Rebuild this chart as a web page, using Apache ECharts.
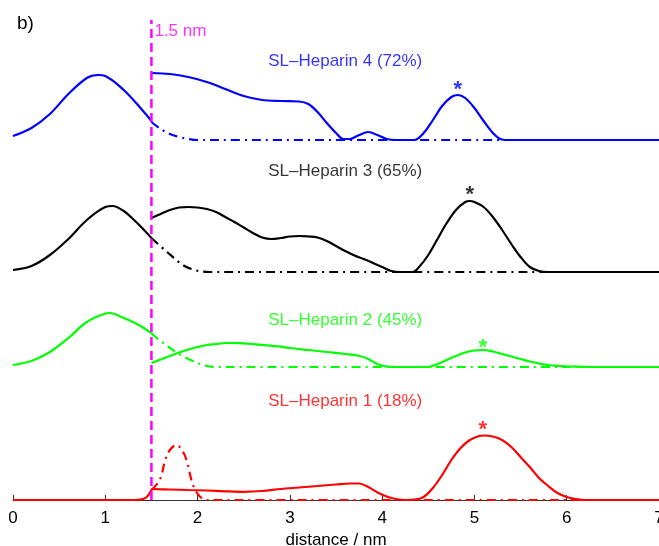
<!DOCTYPE html>
<html><head><meta charset="utf-8">
<script src="https://cdn.jsdelivr.net/npm/echarts@6/dist/echarts.min.js"></script>
<style>html,body{margin:0;padding:0;background:#fff}#c{width:659px;height:546px}</style>
</head><body><div id="c"></div>
<script>
// Curve heights above each trace's own baseline, [distance nm, height]
const offsets = { h4: 3.60, h3: 2.28, h2: 1.33, h1: 0 };
const names = ['SL–Heparin 4 (72%)','SL–Heparin 3 (65%)','SL–Heparin 2 (45%)','SL–Heparin 1 (18%)'];
const colors = ['#0000ff','#000000','#00ff00','#ff0000'];

const h4Left = [[0,0.04],[0.2,0.12],[0.4,0.26],[0.6,0.46],[0.8,0.62],[0.92,0.65],[1.0,0.64],[1.2,0.50],[1.4,0.30],[1.5,0.19]];
const h4Fit = [[1.5,0.18],[1.6,0.11],[1.7,0.06],[1.8,0.03],[1.9,0.01],[2.0,0],[2.2,0],[7,0]];
const h4Right = [[1.5,0.67],[1.7,0.66],[1.9,0.63],[2.1,0.58],[2.3,0.51],[2.5,0.44],[2.7,0.40],[2.9,0.39],[3.1,0.385],[3.2,0.36],[3.3,0.28],[3.4,0.17],[3.5,0.07],[3.58,0.01],[3.65,0.01],[3.75,0.05],[3.85,0.08],[3.95,0.05],[4.05,0.01],[4.15,0],[4.35,0],[4.45,0.07],[4.55,0.20],[4.65,0.34],[4.75,0.43],[4.82,0.45],[4.9,0.42],[5.0,0.32],[5.1,0.19],[5.2,0.07],[5.28,0.01],[5.35,0],[7,0]];

const h3Left = [[0,0.02],[0.2,0.06],[0.4,0.17],[0.6,0.33],[0.8,0.52],[1.0,0.65],[1.08,0.66],[1.2,0.61],[1.3,0.53],[1.4,0.44],[1.5,0.34]];
const h3Fit = [[1.5,0.34],[1.67,0.20],[1.88,0.05],[2.13,0],[2.4,0],[7,0]];
const h3Right = [[1.5,0.54],[1.6,0.58],[1.7,0.62],[1.8,0.645],[1.9,0.65],[2.0,0.645],[2.1,0.63],[2.2,0.60],[2.3,0.55],[2.4,0.50],[2.5,0.445],[2.6,0.39],[2.7,0.345],[2.8,0.33],[2.9,0.34],[3.0,0.355],[3.1,0.36],[3.2,0.355],[3.3,0.345],[3.4,0.31],[3.5,0.26],[3.6,0.21],[3.7,0.165],[3.8,0.13],[3.9,0.09],[4.0,0.05],[4.1,0.01],[4.2,0],[4.33,0],[4.4,0.05],[4.5,0.17],[4.6,0.33],[4.7,0.49],[4.8,0.62],[4.9,0.70],[4.95,0.71],[5.0,0.70],[5.1,0.65],[5.2,0.55],[5.3,0.42],[5.4,0.28],[5.5,0.15],[5.6,0.05],[5.7,0.01],[5.8,0],[7,0]];

const h2Left = [[0,0.02],[0.2,0.06],[0.4,0.15],[0.6,0.29],[0.8,0.45],[1.0,0.535],[1.05,0.54],[1.2,0.49],[1.3,0.45],[1.4,0.40],[1.5,0.34]];
const h2Fit = [[1.5,0.34],[1.57,0.28],[1.88,0.09],[2.2,0],[2.5,0],[7,0]];
const h2Right = [[1.5,0.04],[1.6,0.075],[1.7,0.11],[1.8,0.145],[1.9,0.175],[2.0,0.20],[2.1,0.22],[2.2,0.23],[2.3,0.24],[2.4,0.24],[2.5,0.237],[2.6,0.23],[2.7,0.222],[2.8,0.212],[2.9,0.203],[3.0,0.19],[3.2,0.17],[3.4,0.15],[3.6,0.13],[3.76,0.11],[3.85,0.08],[3.95,0.03],[4.05,0.005],[4.15,0],[4.5,0],[4.6,0.03],[4.7,0.07],[4.8,0.11],[4.9,0.145],[5.0,0.165],[5.09,0.17],[5.2,0.155],[5.3,0.13],[5.4,0.105],[5.5,0.08],[5.6,0.055],[5.7,0.035],[5.8,0.02],[5.95,0.01],[6.1,0.003],[6.25,0],[7,0]];

const h1Left = [[0,0],[1.3,0],[1.38,0.003],[1.45,0.03],[1.5,0.10]];
const h1Fit = [[1.5,0.10],[1.59,0.20],[1.65,0.40],[1.70,0.50],[1.77,0.55],[1.83,0.50],[1.88,0.40],[1.95,0.15],[2.02,0.04],[2.1,0],[2.4,0],[7,0]];
const h1Right = [[1.5,0.11],[1.7,0.105],[1.9,0.10],[2.1,0.095],[2.3,0.087],[2.5,0.082],[2.7,0.09],[2.9,0.11],[3.1,0.125],[3.3,0.14],[3.5,0.155],[3.65,0.165],[3.75,0.165],[3.85,0.13],[3.95,0.075],[4.05,0.035],[4.15,0.01],[4.25,0],[4.35,0.003],[4.45,0.03],[4.55,0.12],[4.65,0.25],[4.75,0.40],[4.85,0.52],[4.95,0.60],[5.05,0.64],[5.1,0.645],[5.2,0.635],[5.3,0.60],[5.4,0.53],[5.5,0.43],[5.6,0.33],[5.7,0.22],[5.8,0.14],[5.9,0.07],[6.0,0.03],[6.1,0.01],[6.2,0],[7,0]];

// peak markers (x, height above baseline)
const stars = [[4.82,0.55],[4.95,0.82],[5.09,0.24],[5.09,0.75]];
const labelPos = [[3.60,0.79],[3.60,1.01],[3.60,0.47],[3.60,0.99]];
const cutoff = 1.5; // nm
const yTop = 4.8;

const traces = [
  {off: offsets.h4, left: h4Left, fit: h4Fit, right: h4Right},
  {off: offsets.h3, left: h3Left, fit: h3Fit, right: h3Right},
  {off: offsets.h2, left: h2Left, fit: h2Fit, right: h2Right},
  {off: offsets.h1, left: h1Left, fit: h1Fit, right: h1Right}
];
const shift = (arr, o) => arr.map(p => [p[0], p[1] + o]);
const FONT = '"Liberation Sans", Arial, Helvetica, sans-serif';
const noBorder = {textBorderWidth:0, textBorderColor:'transparent', textShadowBlur:0};

const series = [];
traces.forEach((t, i) => {
  const c = colors[i];
  const base = {type:'line', showSymbol:false, symbol:'none', clip:false, silent:true, smooth:0.35};
  series.push(Object.assign({}, base, {data: shift(t.fit, t.off), z:2,
    lineStyle:{color:c, width:2.2, type:[9,5,2,5]}}));
  series.push(Object.assign({}, base, {data: shift(t.left, t.off), z:3,
    lineStyle:{color:c, width:2.2}}));
  series.push(Object.assign({}, base, {data: shift(t.right, t.off), z:3,
    lineStyle:{color:c, width:2.2}}));
  series.push({type:'scatter', symbolSize:0, silent:true, z:5,
    data:[[stars[i][0], stars[i][1] + t.off]],
    label:Object.assign({show:true, position:'inside', formatter:'*', color:c, fontSize:22, fontWeight:'bold', fontFamily:FONT, offset:[0,5]}, noBorder)});
  series.push({type:'scatter', symbolSize:0, silent:true, z:5,
    data:[[labelPos[i][0], labelPos[i][1] + t.off]],
    label:Object.assign({show:true, position:'inside', formatter:names[i], color:c, fontSize:17, fontFamily:FONT}, noBorder)});
});
// cutoff line
series.push({type:'line', showSymbol:false, symbol:'none', clip:false, silent:true, z:4,
  data:[[cutoff,0],[cutoff,yTop]],
  lineStyle:{color:'#ff00ff', width:2.5, type:[9,5]}});
series.push({type:'scatter', symbolSize:0, silent:true, data:[[cutoff, yTop - 0.1]],
  label:Object.assign({show:true, position:'right', formatter:'1.5 nm', color:'#ff00ff', fontSize:17, fontFamily:FONT, offset:[-2,1]}, noBorder)});

const chart = echarts.init(document.getElementById('c'), null, {renderer:'canvas'});
chart.setOption({
  animation:false,
  backgroundColor:'#fff',
  title:{text:'b)', left:12, top:9, textStyle:{fontSize:19, fontWeight:'normal', color:'#000', fontFamily:FONT}},
  grid:{left:13, right:0, top:20, bottom:46, containLabel:false, outerBoundsMode:'none'},
  xAxis:{type:'value', min:0, max:7, interval:1,
    name:'distance / nm', nameLocation:'middle', nameGap:27,
    nameTextStyle:{fontSize:17, color:'#000', fontFamily:FONT},
    axisLine:{show:true, lineStyle:{color:'#333', width:1}},
    axisTick:{show:true, inside:true, length:5, lineStyle:{color:'#333'}},
    axisLabel:{fontSize:17, color:'#000', margin:10, fontFamily:FONT, hideOverlap:false, formatter: v => String(v)},
    splitLine:{show:false}},
  yAxis:{type:'value', min:0, max:yTop, show:false, splitLine:{show:false}},
  series: series
});
</script></body></html>
